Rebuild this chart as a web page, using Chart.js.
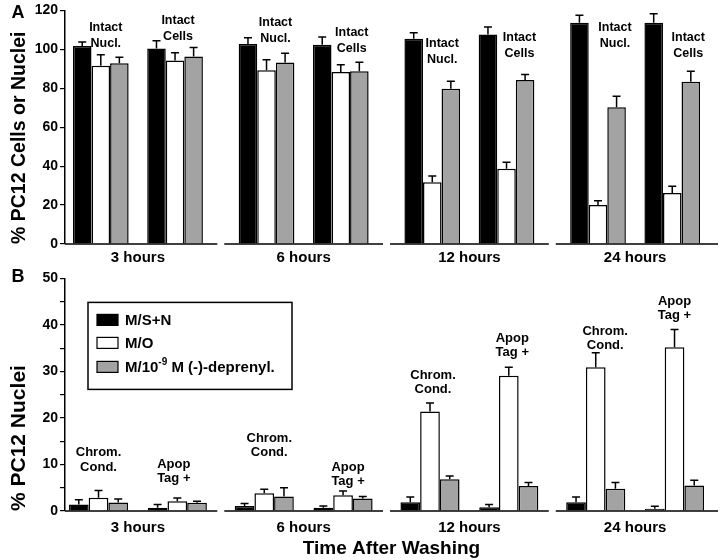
<!DOCTYPE html>
<html>
<head>
<meta charset="utf-8">
<title>PC12 cells and nuclei after washing</title>
<script src="https://cdn.jsdelivr.net/npm/chart.js@4.4.1/dist/chart.umd.min.js"></script>
<style>
  html, body { margin: 0; padding: 0; background: #fff; }
  #wrap { position: relative; width: 720px; height: 560px; }
  #chartA { position: absolute; left: 0; top: 0; }
  #chartB { position: absolute; left: 0; top: 268px; }
</style>
</head>
<body>
<div id="wrap">
  <canvas id="chartA" width="720" height="268"></canvas>
  <canvas id="chartB" width="720" height="292"></canvas>
</div>
<script>
// time groups and treatments
const times = ['3 hours', '6 hours', '12 hours', '24 hours'];
const series = ['M/S+N', 'M/O', 'M/10^-9 M (-)-deprenyl.'];

// Panel A - intact nuclei (%)
const nuclSN = [101.7, 102.7, 105.4, 113.6];
const nuclSNErr = [2.1, 3.3, 3.1, 3.9];
const nuclMO = [91.6, 89.2, 31.7, 20.0];
const nuclMOErr = [5.6, 5.4, 3.2, 2.2];
const nuclDep = [92.9, 93.2, 79.7, 70.3];
const nuclDepErr = [3.0, 4.8, 3.9, 5.6];

// Panel A - intact cells (%)
const cellsSN = [100.4, 102.4, 107.6, 113.6];
const cellsSNErr = [4.0, 3.9, 3.9, 4.7];
const cellsMO = [94.3, 88.3, 38.7, 26.2];
const cellsMOErr = [4.0, 3.8, 3.3, 3.5];
const cellsDep = [96.3, 88.8, 84.2, 83.4];
const cellsDepErr = [4.7, 4.6, 2.9, 5.3];

// Panel B - chromatin condensed nuclei (%)
const chromSN = [1.4, 1.1, 1.9, 1.9];
const chromSNErr = [1.0, 0.5, 1.1, 1.1];
const chromMO = [2.85, 3.8, 21.4, 30.9];
const chromMOErr = [1.55, 0.9, 1.8, 3.1];
const chromDep = [1.85, 3.1, 6.8, 4.8];
const chromDepErr = [0.75, 1.9, 0.7, 1.3];

// Panel B - ApopTag positive nuclei (%)
const apopSN = [0.7, 0.7, 0.8, 0.5];
const apopSNErr = [0.7, 0.4, 0.6, 0.5];
const apopMO = [2.1, 3.4, 29.1, 35.2];
const apopMOErr = [0.7, 0.9, 1.8, 3.8];
const apopDep = [1.8, 2.7, 5.4, 5.5];
const apopDepErr = [0.3, 0.4, 0.7, 1.1];

const FONT = "'Liberation Sans', Arial, Helvetica, sans-serif";
const GRAY = '#a3a3a3';
const fills = ['#000000', '#ffffff', GRAY];

// text labels over the groups (at = y value of first line, dx = shift from the M/O bar)
const notesA = [
  { g: 0, s: 0, lines: ['Intact', 'Nucl.'], at: 111, dx: 5 },
  { g: 0, s: 1, lines: ['Intact', 'Cells'], at: 115, dx: 3 },
  { g: 1, s: 0, lines: ['Intact', 'Nucl.'], at: 113.8, dx: 9 },
  { g: 1, s: 1, lines: ['Intact', 'Cells'], at: 108.5, dx: 11 },
  { g: 2, s: 0, lines: ['Intact', 'Nucl.'], at: 102.9, dx: 10 },
  { g: 2, s: 1, lines: ['Intact', 'Cells'], at: 105.9, dx: 13 },
  { g: 3, s: 0, lines: ['Intact', 'Nucl.'], at: 111.3, dx: 17 },
  { g: 3, s: 1, lines: ['Intact', 'Cells'], at: 105.9, dx: 16 }
];
const notesB = [
  { g: 0, s: 0, lines: ['Chrom.', 'Cond.'], at: 12.55, dx: 0 },
  { g: 0, s: 1, lines: ['Apop', 'Tag +'], at: 10.1, dx: -3.5 },
  { g: 1, s: 0, lines: ['Chrom.', 'Cond.'], at: 15.7, dx: 5 },
  { g: 1, s: 1, lines: ['Apop', 'Tag +'], at: 9.4, dx: 5 },
  { g: 2, s: 0, lines: ['Chrom.', 'Cond.'], at: 29.2, dx: 3 },
  { g: 2, s: 1, lines: ['Apop', 'Tag +'], at: 37.1, dx: 3.5 },
  { g: 3, s: 0, lines: ['Chrom.', 'Cond.'], at: 38.7, dx: 9.5 },
  { g: 3, s: 1, lines: ['Apop', 'Tag +'], at: 45.1, dx: 0 }
];

function barSet(vals, errs, k) {
  return {
    label: series[k].replace('^', ''),
    data: vals.map((v, i) => ({ x: i, y: v })),
    errors: errs,
    backgroundColor: fills[k],
    borderColor: '#000',
    borderWidth: 1.5
  };
}

// 3 bars, an empty slot, 3 bars
function buildSets(first, firstErr, second, secondErr) {
  const sets = first.map((v, k) => barSet(v, firstErr[k], k));
  sets.push({ label: '', data: [] });
  second.forEach((v, k) => sets.push(barSet(v, secondErr[k], k)));
  return sets;
}

// upper error bars
const errorBars = {
  id: 'errorBars',
  afterDatasetsDraw(chart) {
    const ctx = chart.ctx;
    const y = chart.scales.y;
    ctx.save();
    ctx.strokeStyle = '#000';
    ctx.lineWidth = 1.5;
    chart.data.datasets.forEach((ds, di) => {
      if (!ds.errors) return;
      chart.getDatasetMeta(di).data.forEach((bar, i) => {
        const top = y.getPixelForValue(ds.data[i].y + ds.errors[i]);
        ctx.beginPath();
        ctx.moveTo(bar.x, bar.y);
        ctx.lineTo(bar.x, top);
        ctx.moveTo(bar.x - 4, top);
        ctx.lineTo(bar.x + 4, top);
        ctx.stroke();
      });
    });
    ctx.restore();
  }
};

// x axis line broken between time groups
const brokenBase = {
  id: 'brokenBase',
  afterDatasetsDraw(chart) {
    const { ctx, chartArea: a, scales: { x } } = chart;
    ctx.save();
    ctx.strokeStyle = '#000';
    ctx.lineWidth = 1.5;
    times.forEach((t, i) => {
      const l = i === 0 ? a.left : x.getPixelForValue(i - 0.5) + 3.5;
      const r = i === times.length - 1 ? a.right : x.getPixelForValue(i + 0.5) - 3.5;
      ctx.beginPath();
      ctx.moveTo(l, a.bottom);
      ctx.lineTo(r, a.bottom);
      ctx.stroke();
    });
    ctx.restore();
  }
};

// group labels and panel letter
const notes = {
  id: 'notes',
  afterDraw(chart, args, opts) {
    const ctx = chart.ctx;
    const y = chart.scales.y;
    ctx.save();
    ctx.fillStyle = '#000';
    ctx.textAlign = 'center';
    ctx.textBaseline = 'middle';
    ctx.font = 'bold ' + opts.size + 'px ' + FONT;
    opts.items.forEach(n => {
      const bar = chart.getDatasetMeta(n.s * 4 + 1).data[n.g];
      const cx = bar.x + n.dx;
      const cy = y.getPixelForValue(n.at);
      n.lines.forEach((line, j) => ctx.fillText(line, cx, cy + j * opts.gap));
    });
    ctx.font = 'bold 18px ' + FONT;
    ctx.fillText(opts.letter, 18, opts.letterY);
    ctx.restore();
  }
};

// boxed legend inside panel B
const boxLegend = {
  id: 'boxLegend',
  afterDraw(chart) {
    const { ctx, chartArea: a } = chart;
    const left = a.left + 23, top = a.top + 24;
    ctx.save();
    ctx.strokeStyle = '#000';
    ctx.lineWidth = 1.5;
    ctx.fillStyle = '#fff';
    ctx.fillRect(left, top, 204, 87);
    ctx.strokeRect(left, top, 204, 87);
    const rows = [18, 41, 65];
    series.forEach((name, k) => {
      const cy = top + rows[k];
      ctx.fillStyle = fills[k];
      ctx.fillRect(left + 9, cy - 6, 21, 11);
      ctx.lineWidth = 1.2;
      ctx.strokeRect(left + 9, cy - 6, 21, 11);
      ctx.fillStyle = '#000';
      ctx.textAlign = 'left';
      ctx.textBaseline = 'middle';
      let tx = left + 37;
      const parts = name.split(/\^(\S+)/);
      parts.forEach((p, j) => {
        if (j % 2 === 1) {
          ctx.font = 'bold 10px ' + FONT;
          ctx.fillText(p, tx, cy - 5);
        } else {
          ctx.font = 'bold 15px ' + FONT;
          ctx.fillText(p, tx, cy);
        }
        tx += ctx.measureText(p).width;
      });
    });
    ctx.restore();
  }
};

function yAxis(max, step, labelStep, title, titleSize, titlePad) {
  return {
    min: 0,
    max: max,
    border: { color: '#000', width: 1.5 },
    grid: { drawOnChartArea: false, drawTicks: true, tickLength: 5, color: '#000', lineWidth: 1.2 },
    ticks: {
      stepSize: step,
      padding: 2,
      color: '#000',
      font: { family: FONT, size: 14, weight: 'bold' },
      callback: v => (v % labelStep === 0 ? v : '')
    },
    title: {
      display: true,
      text: title,
      color: '#000',
      align: 'start',
      font: { family: FONT, size: titleSize, weight: 'bold' },
      padding: { top: titlePad, bottom: 0 }
    },
    afterFit: s => { s.width = 65; }
  };
}

function xAxis(height, pad, title) {
  return {
    type: 'linear',
    min: -0.44,
    max: 3.5,
    offset: false,
    grid: { display: false, drawTicks: false, offset: false },
    border: { display: false },
    ticks: {
      padding: pad,
      autoSkip: false,
      maxRotation: 0,
      color: '#000',
      font: { family: FONT, size: 15, weight: 'bold' },
      callback: v => times[v]
    },
    title: title,
    afterBuildTicks: s => { s.ticks = times.map((t, i) => ({ value: i })); },
    afterFit: s => { s.height = height; }
  };
}

new Chart(document.getElementById('chartA'), {
  type: 'bar',
  data: {
    datasets: buildSets(
      [nuclSN, nuclMO, nuclDep], [nuclSNErr, nuclMOErr, nuclDepErr],
      [cellsSN, cellsMO, cellsDep], [cellsSNErr, cellsMOErr, cellsDepErr])
  },
  options: {
    responsive: false,
    animation: false,
    categoryPercentage: 0.784,
    barPercentage: 1,
    layout: { padding: { top: 9, right: 2, left: 0, bottom: 0 } },
    scales: {
      x: xAxis(24, 5, { display: false }),
      y: yAxis(120, 10, 20, '% PC12 Cells or Nuclei', 19.5, 8)
    },
    plugins: {
      legend: { display: false },
      tooltip: { enabled: false },
      notes: { items: notesA, size: 12.5, gap: 16, letter: 'A', letterY: 13 }
    }
  },
  plugins: [brokenBase, errorBars, notes]
});

new Chart(document.getElementById('chartB'), {
  type: 'bar',
  data: {
    datasets: buildSets(
      [chromSN, chromMO, chromDep], [chromSNErr, chromMOErr, chromDepErr],
      [apopSN, apopMO, apopDep], [apopSNErr, apopMOErr, apopDepErr])
  },
  options: {
    responsive: false,
    animation: false,
    categoryPercentage: 0.832,
    barPercentage: 1,
    layout: { padding: { top: 10, right: 2, left: 0, bottom: 0 } },
    scales: {
      x: xAxis(49, 8, {
        display: true,
        text: 'Time After Washing',
        color: '#000',
        font: { family: FONT, size: 19, weight: 'bold', lineHeight: 1 },
        padding: { top: 0, bottom: 1.5 }
      }),
      y: yAxis(50, 5, 10, '% PC12 Nuclei', 21, 7)
    },
    plugins: {
      legend: { display: false },
      tooltip: { enabled: false },
      notes: { items: notesB, size: 13, gap: 14.5, letter: 'B', letterY: 9 }
    }
  },
  plugins: [brokenBase, errorBars, notes, boxLegend]
});
</script>
</body>
</html>
